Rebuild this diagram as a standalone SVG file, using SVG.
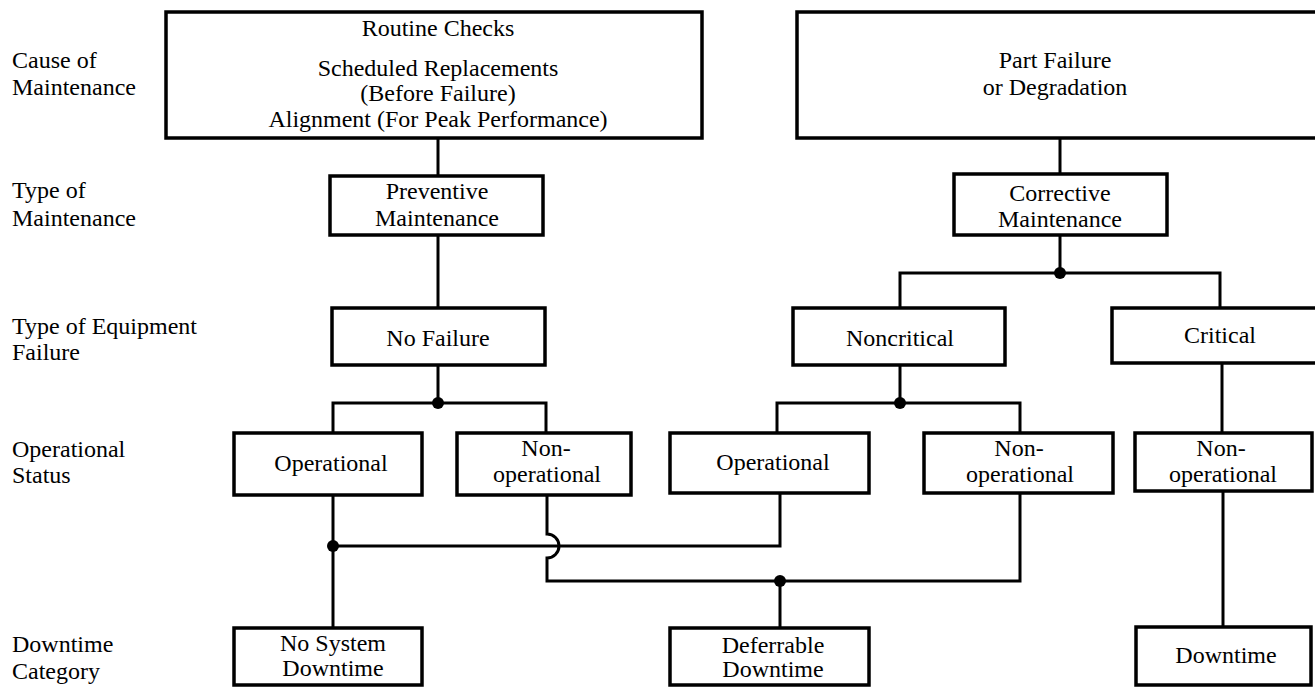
<svg xmlns="http://www.w3.org/2000/svg" width="1315" height="688" viewBox="0 0 1315 688">
<style>
  .box { fill: #fff; stroke: #000; stroke-width: 3.5; }
  .ln { fill: none; stroke: #000; stroke-width: 3; stroke-linejoin: miter; }
  .dot { fill: #000; }
  .t { font-family: 'Liberation Serif', 'Times New Roman', Tinos, 'DejaVu Serif', serif; font-size: 24px; fill: #000; }
  .c { text-anchor: middle; }
</style>
<rect width="1315" height="688" fill="#fff"/>

<g id="row-labels" class="t">
  <text x="12" y="68">Cause of</text>
  <text x="12" y="95">Maintenance</text>
  <text x="12" y="198">Type of</text>
  <text x="12" y="226">Maintenance</text>
  <text x="12" y="334">Type of Equipment</text>
  <text x="12" y="360">Failure</text>
  <text x="12" y="457">Operational</text>
  <text x="12" y="483">Status</text>
  <text x="12" y="652">Downtime</text>
  <text x="12" y="679">Category</text>
</g>

<g id="connectors">
  <path class="ln" d="M438,138 V176"/>
  <path class="ln" d="M438,235 V308"/>
  <path class="ln" d="M438,365 V403"/>
  <path class="ln" d="M333,433 V403 H546 V433"/>
  <path class="ln" d="M1060,138 V174"/>
  <path class="ln" d="M1060,235 V273"/>
  <path class="ln" d="M900,308 V273 H1220 V308"/>
  <path class="ln" d="M900,365 V403"/>
  <path class="ln" d="M777,433 V403 H1020 V433"/>
  <path class="ln" d="M1222,363 V433"/>
  <path class="ln" d="M1223,491 V627"/>
  <path class="ln" d="M333,495 V628"/>
  <path class="ln" d="M333,546 H780 V493"/>
  <path class="ln" d="M547,495 V534 A12,12 0 0 1 547,558 V581 H1020 V493"/>
  <path class="ln" d="M780,581 V628"/>
  <circle class="dot" cx="438" cy="403" r="6"/>
  <circle class="dot" cx="1060" cy="273" r="6"/>
  <circle class="dot" cx="900" cy="403" r="6"/>
  <circle class="dot" cx="333" cy="546" r="6"/>
  <circle class="dot" cx="780" cy="581" r="6"/>
</g>

<g id="cause-preventive" class="t">
  <rect class="box" x="166" y="12" width="536" height="126"/>
  <text class="c" x="438" y="36">Routine Checks</text>
  <text class="c" x="438" y="76">Scheduled Replacements</text>
  <text class="c" x="438" y="101">(Before Failure)</text>
  <text class="c" x="438" y="127">Alignment (For Peak Performance)</text>
</g>

<g id="cause-corrective" class="t">
  <rect class="box" x="797" y="12" width="530" height="126"/>
  <text class="c" x="1055" y="68">Part Failure</text>
  <text class="c" x="1055" y="95">or Degradation</text>
</g>

<g id="preventive" class="t">
  <rect class="box" x="330" y="176" width="213" height="59"/>
  <text class="c" x="437" y="199">Preventive</text>
  <text class="c" x="437" y="226">Maintenance</text>
</g>

<g id="corrective" class="t">
  <rect class="box" x="954" y="174" width="213" height="61"/>
  <text class="c" x="1060" y="201">Corrective</text>
  <text class="c" x="1060" y="227">Maintenance</text>
</g>

<g id="no-failure" class="t">
  <rect class="box" x="332" y="308" width="213" height="57"/>
  <text class="c" x="438" y="346">No Failure</text>
</g>

<g id="noncritical" class="t">
  <rect class="box" x="793" y="308" width="212" height="57"/>
  <text class="c" x="900" y="346">Noncritical</text>
</g>

<g id="critical" class="t">
  <rect class="box" x="1112" y="308" width="220" height="55"/>
  <text class="c" x="1220" y="343">Critical</text>
</g>

<g id="operational-1" class="t">
  <rect class="box" x="234" y="433" width="188" height="62"/>
  <text class="c" x="331" y="471">Operational</text>
</g>

<g id="nonoperational-1" class="t">
  <rect class="box" x="457" y="433" width="174" height="62"/>
  <text class="c" x="546" y="456">Non-</text>
  <text class="c" x="547" y="482">operational</text>
</g>

<g id="operational-2" class="t">
  <rect class="box" x="670" y="433" width="199" height="60"/>
  <text class="c" x="773" y="470">Operational</text>
</g>

<g id="nonoperational-2" class="t">
  <rect class="box" x="924" y="433" width="189" height="60"/>
  <text class="c" x="1019" y="456">Non-</text>
  <text class="c" x="1020" y="482">operational</text>
</g>

<g id="nonoperational-3" class="t">
  <rect class="box" x="1135" y="433" width="177" height="58"/>
  <text class="c" x="1221" y="456">Non-</text>
  <text class="c" x="1223" y="482">operational</text>
</g>

<g id="no-system-downtime" class="t">
  <rect class="box" x="234" y="628" width="188" height="57"/>
  <text class="c" x="333" y="651">No System</text>
  <text class="c" x="333" y="676">Downtime</text>
</g>

<g id="deferrable-downtime" class="t">
  <rect class="box" x="670" y="628" width="199" height="57"/>
  <text class="c" x="773" y="653">Deferrable</text>
  <text class="c" x="773" y="677">Downtime</text>
</g>

<g id="downtime" class="t">
  <rect class="box" x="1136" y="627" width="175" height="58"/>
  <text class="c" x="1226" y="663">Downtime</text>
</g>
</svg>
